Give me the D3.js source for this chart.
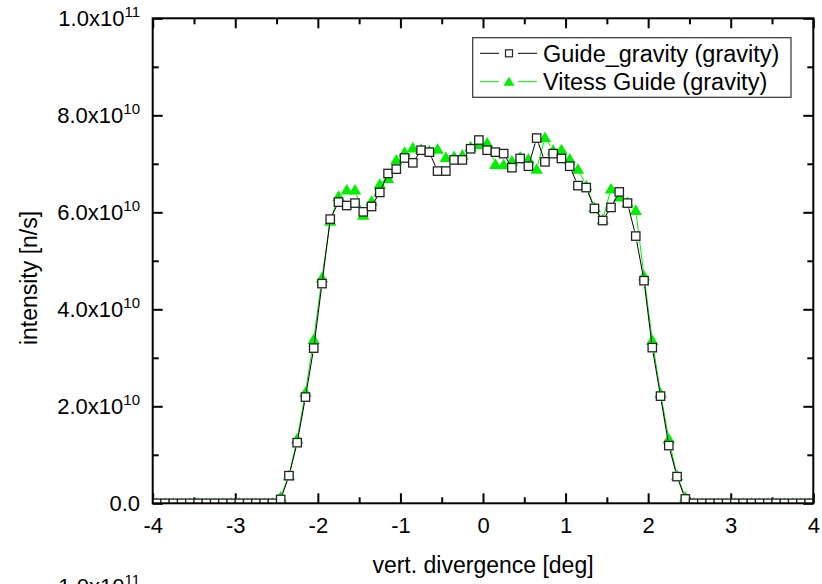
<!DOCTYPE html>
<html>
<head>
<meta charset="utf-8">
<script src="https://cdn.jsdelivr.net/npm/d3@7"></script>
<style>
  body { margin: 0; background: #fff; }
  svg text { font-family: "Liberation Sans", Arial, sans-serif; fill: #000; }
</style>
</head>
<body>
<div id="chart"></div>
<script>
// Bin centres (deg) and intensities in units of 1e10 n/s
const divergence = [
  -3.95, -3.85, -3.75, -3.65, -3.55, -3.45, -3.35, -3.25, -3.15, -3.05,
  -2.95, -2.85, -2.75, -2.65, -2.55, -2.45, -2.35, -2.25, -2.15, -2.05,
  -1.95, -1.85, -1.75, -1.65, -1.55, -1.45, -1.35, -1.25, -1.15, -1.05,
  -0.95, -0.85, -0.75, -0.65, -0.55, -0.45, -0.35, -0.25, -0.15, -0.05,
  0.05, 0.15, 0.25, 0.35, 0.45, 0.55, 0.65, 0.75, 0.85, 0.95,
  1.05, 1.15, 1.25, 1.35, 1.45, 1.55, 1.65, 1.75, 1.85, 1.95,
  2.05, 2.15, 2.25, 2.35, 2.45, 2.55, 2.65, 2.75, 2.85, 2.95,
  3.05, 3.15, 3.25, 3.35, 3.45, 3.55, 3.65, 3.75, 3.85, 3.95
];

const guideGravity = [
  0, 0, 0, 0, 0, 0, 0, 0, 0, 0,
  0, 0, 0, 0, 0, 0.08, 0.57, 1.25, 2.19, 3.20,
  4.53, 5.86, 6.21, 6.14, 6.19, 6.01, 6.12, 6.41, 6.80, 6.89,
  7.12, 7.02, 7.28, 7.24, 6.85, 6.85, 7.08, 7.08, 7.31, 7.49,
  7.28, 7.24, 7.21, 6.92, 7.11, 6.95, 7.53, 7.04, 7.21, 7.11,
  6.95, 6.55, 6.51, 6.08, 5.83, 6.10, 6.42, 6.19, 5.51, 4.59,
  3.21, 2.21, 1.19, 0.55, 0.09, 0, 0, 0, 0, 0,
  0, 0, 0, 0, 0, 0, 0, 0, 0, 0
];

const vitessGuide = [
  0, 0, 0, 0, 0, 0, 0, 0, 0, 0,
  0, 0, 0, 0, 0, 0.13, 0.57, 1.33, 2.29, 3.38,
  4.65, 5.82, 6.33, 6.46, 6.46, 5.94, 6.23, 6.58, 6.70, 7.08,
  7.24, 7.33, 7.30, 7.27, 7.30, 7.13, 7.15, 7.18, 7.35, 7.40,
  7.43, 6.99, 6.98, 7.06, 7.14, 7.10, 6.89, 7.54, 7.28, 7.29,
  7.10, 6.89, 6.55, 6.10, 5.85, 6.48, 6.32, 6.20, 6.04, 4.69,
  3.36, 2.27, 1.33, 0.57, 0.13, 0, 0, 0, 0, 0,
  0, 0, 0, 0, 0, 0, 0, 0, 0, 0
];

const xTicks = [-4, -3, -2, -1, 0, 1, 2, 3, 4];
const xMinorTicks = [-3.5, -2.5, -1.5, -0.5, 0.5, 1.5, 2.5, 3.5];
const yTicks = [0, 2, 4, 6, 8, 10];
const yMinorTicks = [1, 3, 5, 7, 9];
const yTickMantissa = ["0.0", "2.0x10", "4.0x10", "6.0x10", "8.0x10", "1.0x10"];
const yTickExponent = ["", "10", "10", "10", "10", "11"];
const seriesNames = ["Guide_gravity (gravity)", "Vitess Guide (gravity)"];

// Dimensions and margins
const margin = { top: 18.3, right: 8.7, bottom: 80.7, left: 152.7 };
const width = 822 - margin.left - margin.right;
const height = 584 - margin.top - margin.bottom;
const green = "#00f000";

const svg = d3.select("#chart")
  .append("svg")
  .attr("width", 822)
  .attr("height", 584)
  .style("display", "block");

const g = svg.append("g")
  .attr("transform", `translate(${margin.left},${margin.top})`);

const x = d3.scaleLinear().domain([-4, 4]).range([0, width]);
const y = d3.scaleLinear().domain([0, 10]).range([height, 0]);

// Clip data to the plot frame
svg.append("defs").append("clipPath")
  .attr("id", "plot-clip")
  .append("rect")
  .attr("width", width)
  .attr("height", height);

// Inward ticks on all four sides
function styleAxis(sel) {
  sel.select(".domain").remove();
  sel.selectAll(".tick line").attr("stroke", "#000").attr("stroke-width", 2);
  sel.selectAll(".tick text").style("font-size", "22px");
}

g.append("g")
  .attr("transform", `translate(0,${height})`)
  .call(d3.axisBottom(x).tickValues(xTicks).tickSize(-10).tickPadding(14).tickFormat(d => String(d)))
  .call(styleAxis);
g.append("g")
  .attr("transform", `translate(0,${height})`)
  .call(d3.axisBottom(x).tickValues(xMinorTicks).tickSize(-6).tickFormat(""))
  .call(styleAxis);
g.append("g")
  .call(d3.axisTop(x).tickValues(xTicks).tickSize(-10).tickFormat(""))
  .call(styleAxis);
g.append("g")
  .call(d3.axisTop(x).tickValues(xMinorTicks).tickSize(-6).tickFormat(""))
  .call(styleAxis);
g.append("g")
  .call(d3.axisLeft(y).tickValues(yTicks).tickSize(-10).tickFormat(""))
  .call(styleAxis);
g.append("g")
  .call(d3.axisLeft(y).tickValues(yMinorTicks).tickSize(-6).tickFormat(""))
  .call(styleAxis);
g.append("g")
  .attr("transform", `translate(${width},0)`)
  .call(d3.axisRight(y).tickValues(yTicks).tickSize(-10).tickFormat(""))
  .call(styleAxis);
g.append("g")
  .attr("transform", `translate(${width},0)`)
  .call(d3.axisRight(y).tickValues(yMinorTicks).tickSize(-6).tickFormat(""))
  .call(styleAxis);

// Y tick labels with superscript exponents
const yLabels = g.selectAll(".y-label")
  .data(yTicks)
  .enter()
  .append("text")
  .attr("class", "y-label")
  .attr("x", -12.7)
  .attr("y", d => y(d) + 7.5)
  .attr("text-anchor", "end")
  .style("font-size", "22px");
yLabels.append("tspan").text((d, i) => yTickMantissa[i]);
yLabels.append("tspan")
  .attr("dy", -9)
  .style("font-size", "15px")
  .text((d, i) => yTickExponent[i]);

// Top label of the next panel, cut off by the window edge as in the source image
const nextLabel = g.append("text")
  .attr("x", -12.7)
  .attr("y", y(10) + 7.5 + 568.5)
  .attr("text-anchor", "end")
  .style("font-size", "22px");
nextLabel.append("tspan").text(yTickMantissa[5]);
nextLabel.append("tspan").attr("dy", -9).style("font-size", "15px").text(yTickExponent[5]);

// Line segments that stop short of the symbols
function gapSegments(xs, ys, gap) {
  const segs = [];
  for (let i = 0; i < xs.length - 1; i++) {
    const x1 = x(xs[i]), y1 = y(ys[i]), x2 = x(xs[i + 1]), y2 = y(ys[i + 1]);
    const len = Math.hypot(x2 - x1, y2 - y1);
    if (len <= 2 * gap) continue;
    const ux = (x2 - x1) / len, uy = (y2 - y1) / len;
    segs.push([x1 + ux * gap, y1 + uy * gap, x2 - ux * gap, y2 - uy * gap]);
  }
  return segs;
}

const plot = g.append("g").attr("clip-path", "url(#plot-clip)");

const triPath = "M0,-6L6.2,4.6L-6.2,4.6Z";

// Vitess Guide (green triangles)
plot.selectAll(".seg-vitess")
  .data(gapSegments(divergence, vitessGuide, 5))
  .enter()
  .append("line")
  .attr("x1", d => d[0]).attr("y1", d => d[1])
  .attr("x2", d => d[2]).attr("y2", d => d[3])
  .attr("stroke", green)
  .attr("stroke-width", 1);

plot.selectAll(".dot-vitess")
  .data(divergence)
  .enter()
  .append("path")
  .attr("d", triPath)
  .attr("transform", (d, i) => `translate(${x(d)},${y(vitessGuide[i])})`)
  .attr("fill", green);

// Guide_gravity (open squares)
plot.selectAll(".seg-guide")
  .data(gapSegments(divergence, guideGravity, 5.5))
  .enter()
  .append("line")
  .attr("x1", d => d[0]).attr("y1", d => d[1])
  .attr("x2", d => d[2]).attr("y2", d => d[3])
  .attr("stroke", "#000")
  .attr("stroke-width", 1);

plot.selectAll(".dot-guide")
  .data(divergence)
  .enter()
  .append("rect")
  .attr("x", d => x(d) - 4.2)
  .attr("y", (d, i) => y(guideGravity[i]) - 4.2)
  .attr("width", 8.4)
  .attr("height", 8.4)
  .attr("fill", "#fff")
  .attr("stroke", "#222")
  .attr("stroke-width", 1.3);

// Frame
g.append("rect")
  .attr("width", width)
  .attr("height", height)
  .attr("fill", "none")
  .attr("stroke", "#000")
  .attr("stroke-width", 2);

// Legend
const legend = svg.append("g");
legend.append("rect")
  .attr("x", 472.7).attr("y", 37.7)
  .attr("width", 318.3).attr("height", 59.6)
  .attr("fill", "#fff")
  .attr("stroke", "#333")
  .attr("stroke-width", 1.2);

const legendRows = [53.3, 81.7];
legendRows.forEach((ly, i) => {
  const col = i === 0 ? "#000" : green;
  legend.append("line").attr("x1", 480).attr("x2", 499).attr("y1", ly).attr("y2", ly)
    .attr("stroke", col).attr("stroke-width", 1);
  legend.append("line").attr("x1", 518).attr("x2", 537).attr("y1", ly).attr("y2", ly)
    .attr("stroke", col).attr("stroke-width", 1);
  if (i === 0) {
    legend.append("rect").attr("x", 505.5).attr("y", ly - 3.5).attr("width", 7).attr("height", 7)
      .attr("fill", "#fff").attr("stroke", "#222").attr("stroke-width", 1.2);
  } else {
    legend.append("path").attr("d", "M0,-5L5.5,4L-5.5,4Z")
      .attr("transform", `translate(509,${ly})`).attr("fill", green);
  }
  legend.append("text")
    .attr("x", 543)
    .attr("y", ly + 8.5)
    .style("font-size", "23.5px")
    .text(seriesNames[i]);
});

// Axis captions
svg.append("text")
  .attr("x", margin.left + width / 2)
  .attr("y", 573)
  .attr("text-anchor", "middle")
  .style("font-size", "23px")
  .text("vert. divergence [deg]");

svg.append("text")
  .attr("transform", "translate(37,278) rotate(-90)")
  .attr("text-anchor", "middle")
  .style("font-size", "23px")
  .text("intensity [n/s]");
</script>
</body>
</html>
